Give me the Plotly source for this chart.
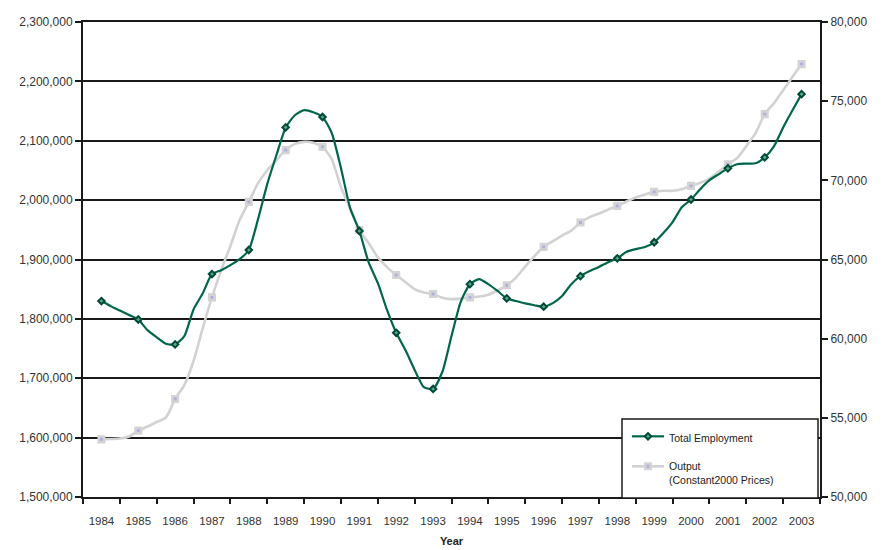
import plotly.graph_objects as go

# ---- data ----
years = list(range(1984, 2004))
year_labels = [str(y) for y in years]

# quarterly points (1984.00, 1984.25, ... 2003.00); annual values every 4th
employment_q = [
    1830000, 1821500, 1814000, 1806500,
    1799000, 1781000, 1769000, 1758000,
    1757000, 1771000, 1816000, 1843000,
    1875500, 1882000, 1890500, 1900500,
    1916000, 1968000, 2027000, 2076000,
    2122500, 2143000, 2151500, 2148000,
    2140000, 2113000, 2054000, 1986500,
    1948000, 1895500, 1860500, 1815000,
    1776500, 1747500, 1714000, 1685000,
    1682000, 1710500, 1771000, 1828500,
    1858500, 1867000, 1858500, 1847000,
    1834500, 1830000, 1826000, 1823000,
    1820500, 1826500, 1838500, 1858500,
    1872000, 1880500, 1887500, 1895500,
    1902000, 1913000, 1917500, 1921000,
    1929000, 1944500, 1963000, 1988000,
    2001000, 2018500, 2033500, 2043500,
    2053500, 2060500, 2061500, 2062000,
    2072000, 2090500, 2122500, 2151000,
    2178500,
]
output_q = [
    53640, 53660, 53690, 53820,
    54190, 54450, 54735, 55020,
    56190, 57070, 58590, 60670,
    62610, 64330, 65850, 67490,
    68640, 69820, 70640, 71280,
    71910, 72300, 72430, 72370,
    72110, 71340, 69570, 68210,
    66860, 66040, 65150, 64520,
    64020, 63570, 63130, 62910,
    62820, 62590, 62500, 62530,
    62610, 62660, 62780, 63040,
    63370, 63860, 64550, 65210,
    65800, 66160, 66510, 66820,
    67340, 67680, 67900, 68150,
    68390, 68660, 68910, 69100,
    69270, 69340, 69340, 69440,
    69650, 69840, 70110, 70550,
    71020, 71400, 72160, 72980,
    74180, 74870, 75690, 76520,
    77340,
]
quarters = [years[0] + i / 4 for i in range(len(employment_q))]
employment_annual = employment_q[::4]
output_annual = output_q[::4]

left_ticks = list(range(1500000, 2300001, 100000))
right_ticks = list(range(50000, 80001, 5000))

GREEN = "#00664b"
GREEN_DARK = "#004a35"
GREEN_FILL = "#5aa88f"
GREY = "#d2d2d2"
GREY_FILL = "#aab0e0"
FONT = "Arial, Liberation Sans, sans-serif"
TXT = "#333333"

emp_marker = dict(symbol="diamond", size=5, color=GREEN_FILL,
                  line=dict(color=GREEN_DARK, width=2))
out_marker = dict(symbol="square", size=5.5, color=GREY_FILL,
                  line=dict(color="#d4d4d4", width=2.6))

fig = go.Figure()

# Output on the base (right) axis, employment on the overlaying (left) axis
fig.add_trace(go.Scatter(
    x=quarters, y=output_q, mode="lines", yaxis="y",
    line=dict(color=GREY, width=2.6, shape="spline", smoothing=0.6),
    showlegend=False, hoverinfo="skip"))
fig.add_trace(go.Scatter(
    x=years, y=output_annual, mode="markers", yaxis="y",
    marker=out_marker, showlegend=False))
fig.add_trace(go.Scatter(
    x=quarters, y=employment_q, mode="lines", yaxis="y2",
    line=dict(color=GREEN, width=2.2, shape="spline", smoothing=0.6),
    showlegend=False, hoverinfo="skip"))
fig.add_trace(go.Scatter(
    x=years, y=employment_annual, mode="markers", yaxis="y2",
    marker=emp_marker, showlegend=False))

# legend entries
fig.add_trace(go.Scatter(
    x=[None], y=[None], yaxis="y2", mode="lines+markers", name="Total Employment",
    line=dict(color=GREEN, width=2.2), marker=emp_marker, legendgroup="a"))
fig.add_trace(go.Scatter(
    x=[None], y=[None], yaxis="y", mode="lines+markers",
    name="Output<br>(Constant2000 Prices)",
    line=dict(color=GREY, width=2.6), marker=out_marker, legendgroup="b"))

OFF = 8  # page body margin
L, R, T, B = 75, 65, 14, 53
W, H = 877, 542
pw, ph = W - L - R, H - T - B


def px_x(p):
    return (p - OFF - L) / pw


def px_y(p):
    return (H - B - (p - OFF)) / ph


fig.update_layout(
    width=W, height=H,
    margin=dict(l=L, r=R, t=T, b=B, pad=0),
    paper_bgcolor="white", plot_bgcolor="white",
    font=dict(family=FONT, size=11, color=TXT),
    xaxis=dict(
        range=[1983.5, 2003.5], tickmode="array", tickvals=years,
        ticktext=year_labels, ticks="", showgrid=False, zeroline=False,
        showline=True, linecolor="#1a1a1a", linewidth=2, mirror=True,
        tickfont=dict(size=11.5, color=TXT), ticklabelstandoff=12,
        minor=dict(tickmode="linear", tick0=1983.5, dtick=1, ticks="outside",
                   ticklen=5, tickwidth=2, tickcolor="#1a1a1a", showgrid=False),
        title=dict(text="<b>Year</b>", font=dict(size=11, color="#222"), standoff=12),
        automargin=False,
    ),
    yaxis=dict(
        side="right", range=[50000, 80000], tickmode="array", tickvals=right_ticks,
        tickformat=",d", showgrid=False, zeroline=False, showline=True,
        linecolor="#1a1a1a", linewidth=2, ticks="outside", ticklen=6, tickwidth=2,
        tickcolor="#1a1a1a", tickfont=dict(size=12, color=TXT), automargin=False,
    ),
    yaxis2=dict(
        overlaying="y", side="left", range=[1500000, 2300000], tickmode="array",
        tickvals=left_ticks, tickformat=",d", showgrid=True, gridcolor="#1a1a1a",
        gridwidth=2, zeroline=False, showline=True, linecolor="#1a1a1a", linewidth=2,
        ticks="outside", ticklen=6, tickwidth=2, tickcolor="#1a1a1a",
        tickfont=dict(size=12, color=TXT), automargin=False,
    ),
    legend=dict(
        x=px_x(627), y=px_y(423), xanchor="left", yanchor="top",
        bgcolor="rgba(0,0,0,0)", borderwidth=0, font=dict(size=10.5, color="#222"),
        valign="top", tracegroupgap=11, traceorder="grouped", itemwidth=32,
    ),
    shapes=[dict(type="rect", xref="paper", yref="paper",
                 x0=px_x(622), x1=px_x(818), y0=px_y(498), y1=px_y(419),
                 fillcolor="white", line=dict(color="#1a1a1a", width=1.5),
                 layer="above")],
    showlegend=True,
)

fig.write_html("out.html")
